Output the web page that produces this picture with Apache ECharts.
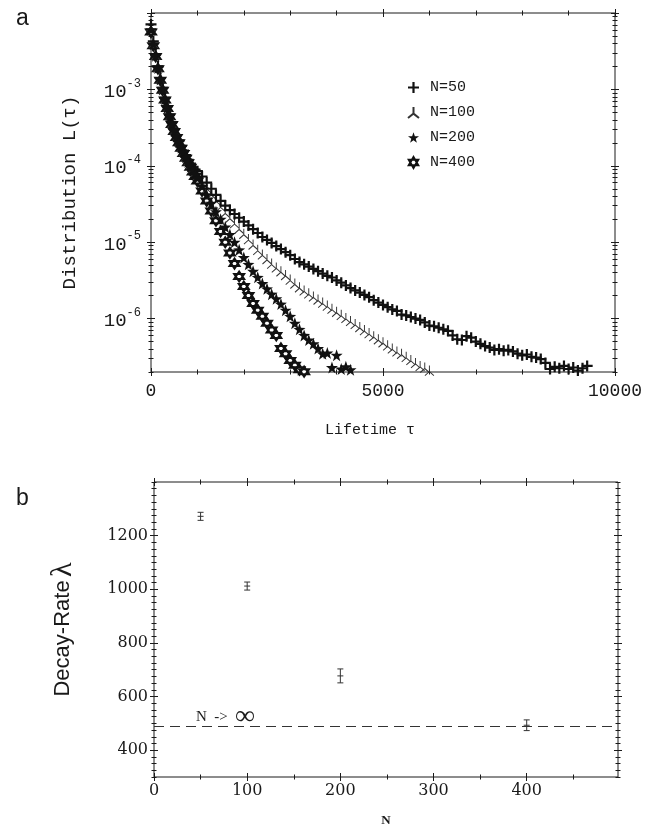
<!DOCTYPE html>
<html><head><meta charset="utf-8">
<script src="https://cdn.jsdelivr.net/npm/echarts@6/dist/echarts.min.js"></script>
<style>html,body{margin:0;padding:0;background:#fff}#chart{width:650px;height:829px}</style>
</head><body><div id="chart"></div>
<script>
// ---------- Panel a : lifetime distribution L(tau) ----------
// early bins (tau = 0 .. 950, every 50), then coarser bins (tau = 1000 .. , every 100)
const TAU_EARLY_STEP = 50;
const TAU_SPLIT = 1000;
const TAU_STEP = 100;
const L_N50_EARLY = [7.08e-3, 4.27e-3, 2.88e-3, 2.0e-3, 1.41e-3, 1.05e-3, 7.76e-4, 6.03e-4, 4.68e-4, 3.72e-4,
 3.02e-4, 2.51e-4, 2.14e-4, 1.82e-4, 1.58e-4, 1.38e-4, 1.20e-4, 1.07e-4, 9.55e-5, 8.91e-5];
const L_N50 = [8.51e-5, 7.24e-5, 6.03e-5, 5.01e-5, 4.17e-5, 3.47e-5, 3.02e-5, 2.63e-5, 2.34e-5, 2.09e-5,
 1.86e-5, 1.66e-5, 1.48e-5, 1.32e-5, 1.17e-5, 1.07e-5, 9.77e-6, 8.91e-6, 8.13e-6, 7.41e-6,
 6.76e-6, 6.03e-6, 5.50e-6, 5.13e-6, 4.79e-6, 4.47e-6, 4.17e-6, 3.89e-6, 3.63e-6, 3.45e-6,
 3.16e-6, 2.95e-6, 2.72e-6, 2.51e-6, 2.34e-6, 2.19e-6, 2.04e-6, 1.91e-6, 1.74e-6, 1.62e-6,
 1.51e-6, 1.41e-6, 1.32e-6, 1.26e-6, 1.13e-6, 1.10e-6, 1.05e-6, 1.0e-6, 9.6e-7, 8.91e-7,
 8.1e-7, 7.94e-7, 7.59e-7, 7.24e-7, 6.92e-7, 6.03e-7, 5.37e-7, 5.25e-7, 5.89e-7, 5.62e-7,
 5.01e-7, 4.68e-7, 4.37e-7, 4.17e-7, 3.89e-7, 3.98e-7, 3.80e-7, 3.89e-7, 3.72e-7, 3.47e-7,
 3.31e-7, 3.39e-7, 3.16e-7, 3.09e-7, 2.95e-7, 2.63e-7, 2.19e-7, 2.34e-7, 2.24e-7, 2.40e-7,
 2.19e-7, 2.29e-7, 2.09e-7, 2.24e-7, 2.40e-7];
const L_N100_EARLY = [6.76e-3, 4.07e-3, 2.82e-3, 1.95e-3, 1.38e-3, 1.02e-3, 7.59e-4, 5.89e-4, 4.57e-4, 3.63e-4,
 2.95e-4, 2.45e-4, 2.09e-4, 1.78e-4, 1.55e-4, 1.35e-4, 1.17e-4, 1.05e-4, 9.33e-5, 8.32e-5];
const L_N100 = [7.59e-5, 6.17e-5, 5.13e-5, 4.27e-5, 3.55e-5, 2.95e-5, 2.45e-5, 2.09e-5, 1.78e-5, 1.51e-5,
 1.29e-5, 1.10e-5, 9.33e-6, 7.94e-6, 6.92e-6, 6.03e-6, 5.25e-6, 4.68e-6, 4.17e-6, 3.72e-6,
 3.24e-6, 2.88e-6, 2.57e-6, 2.34e-6, 2.14e-6, 1.95e-6, 1.78e-6, 1.62e-6, 1.48e-6, 1.35e-6,
 1.23e-6, 1.12e-6, 1.02e-6, 9.33e-7, 8.51e-7, 7.76e-7, 7.08e-7, 6.46e-7, 5.89e-7, 5.37e-7,
 4.90e-7, 4.47e-7, 4.07e-7, 3.72e-7, 3.47e-7, 3.16e-7, 2.88e-7, 2.63e-7, 2.40e-7, 2.29e-7,
 2.09e-7];
const L_N200_EARLY = [6.03e-3, 3.89e-3, 2.75e-3, 1.91e-3, 1.35e-3, 1.0e-3, 7.41e-4, 5.75e-4, 4.47e-4, 3.55e-4,
 2.88e-4, 2.40e-4, 2.04e-4, 1.74e-4, 1.51e-4, 1.29e-4, 1.12e-4, 9.77e-5, 8.71e-5, 7.76e-5];
const L_N200 = [6.92e-5, 5.37e-5, 4.17e-5, 3.24e-5, 2.51e-5, 2.0e-5, 1.58e-5, 1.26e-5, 1.0e-5, 7.94e-6,
 6.31e-6, 5.13e-6, 4.17e-6, 3.47e-6, 2.88e-6, 2.45e-6, 2.09e-6, 1.82e-6, 1.55e-6, 1.29e-6,
 1.07e-6, 8.71e-7, 7.24e-7, 6.03e-7, 5.25e-7, 4.68e-7, 4.07e-7, 3.47e-7, 3.55e-7, 2.29e-7,
 3.31e-7, 2.19e-7, 2.34e-7, 2.14e-7];
const L_N400_EARLY = [5.62e-3, 3.72e-3, 2.69e-3, 1.86e-3, 1.32e-3, 9.77e-4, 7.24e-4, 5.62e-4, 4.37e-4, 3.47e-4,
 2.82e-4, 2.34e-4, 2.0e-4, 1.70e-4, 1.45e-4, 1.26e-4, 1.10e-4, 9.55e-5, 8.32e-5, 7.24e-5];
const L_N400 = [6.31e-5, 4.68e-5, 3.47e-5, 2.57e-5, 1.91e-5, 1.38e-5, 1.0e-5, 7.24e-6, 5.25e-6, 3.55e-6,
 2.63e-6, 2.0e-6, 1.58e-6, 1.29e-6, 1.07e-6, 8.71e-7, 7.08e-7, 6.03e-7, 4.07e-7, 3.47e-7,
 2.82e-7, 2.45e-7, 2.14e-7, 2.02e-7];
const SERIES_NAMES = ['N=50', 'N=100', 'N=200', 'N=400'];

// axis ranges / ticks panel a
const TAU_MIN = 0, TAU_MAX = 10000;
const L_MIN = 2e-7, L_MAX = 1e-2;
const TAU_TICK_LABELS = [0, 5000, 10000];
const TAU_MINOR = [1000, 2000, 3000, 4000, 6000, 7000, 8000, 9000];
const L_TICK_LABELS = [1e-6, 1e-5, 1e-4, 1e-3];
const L_MAJOR = [1e-6, 1e-5, 1e-4, 1e-3, 1e-2];
const L_DECADES = [1e-7, 1e-6, 1e-5, 1e-4, 1e-3];
const L_MANTISSAS = [2, 3, 4, 5, 6, 7, 8, 9];

// ---------- Panel b : decay rate vs N ----------
const N_VALUES = [50, 100, 200, 400];
const LAMBDA = [1272, 1012, 677, 493];
const LAMBDA_ERR = [15, 15, 26, 20];
const LAMBDA_LIMIT = 490;
const N_MIN = 0, N_MAX = 498;
const LAM_MIN = 300, LAM_MAX = 1400;
const N_TICK_LABELS = [0, 100, 200, 300, 400];
const N_MINOR = [50, 150, 250, 350, 450];
const LAM_TICK_LABELS = [400, 600, 800, 1000, 1200];

// ---------- build ----------
const INK = '#1a1a1a';
const L_MINOR = [];
L_DECADES.forEach(d => L_MANTISSAS.forEach(m => L_MINOR.push(+(m * d).toPrecision(3))));
const LAM_MINOR = [];
for (let v = LAM_MIN; v <= LAM_MAX; v += 25) if (LAM_TICK_LABELS.indexOf(v) < 0) LAM_MINOR.push(v);

const toPts = (early, main) =>
  early.map((v, i) => [i * TAU_EARLY_STEP, v]).concat(main.map((v, i) => [TAU_SPLIT + i * TAU_STEP, v]));
const plain = v => String(Math.round(v));

function tickAxis(base, gridIndex, position, values, len, inside) {
  return Object.assign({}, base, {
    gridIndex, position, name: '', silent: true,
    axisLine: { show: false, onZero: false },
    axisLabel: { show: false },
    splitLine: { show: false },
    axisTick: { show: true, customValues: values, inside, length: len, lineStyle: { color: INK, width: 1 } }
  });
}
function crossTicks(base, gridIndex, positions, major, minor, majLen, minLen) {
  const out = [];
  positions.forEach(p => {
    [[major, majLen], [minor, minLen]].forEach(([vals, len]) => {
      [true, false].forEach(ins => out.push(tickAxis(base, gridIndex, p, vals, len, ins)));
    });
  });
  return out;
}

const xBaseA = { type: 'value', min: TAU_MIN, max: TAU_MAX };
const yBaseA = { type: 'log', logBase: 10, min: L_MIN, max: L_MAX };
const xBaseB = { type: 'value', min: N_MIN, max: N_MAX };
const yBaseB = { type: 'value', min: LAM_MIN, max: LAM_MAX };

const MONO = 'Liberation Mono';
const SERIF = 'DejaVu Serif';

const xAxes = [
  Object.assign({}, xBaseA, {
    gridIndex: 0, position: 'bottom',
    axisLine: { show: false, onZero: false }, axisTick: { show: false }, splitLine: { show: false },
    axisLabel: { customValues: TAU_TICK_LABELS, formatter: plain, margin: 10, fontFamily: MONO, fontSize: 18, color: INK },
    name: 'Lifetime τ', nameLocation: 'middle', nameGap: 51,
    nameTextStyle: { fontFamily: MONO, fontSize: 15, color: INK, padding: [0, 26, 0, 0] }
  }),
  Object.assign({}, xBaseB, {
    gridIndex: 1, position: 'bottom',
    axisLine: { show: false, onZero: false }, axisTick: { show: false }, splitLine: { show: false },
    axisLabel: { customValues: N_TICK_LABELS, formatter: plain, margin: 6, fontFamily: SERIF, fontSize: 16, color: INK },
    name: 'N', nameLocation: 'middle', nameGap: 37,
    nameTextStyle: { fontFamily: 'Liberation Serif', fontSize: 13, fontWeight: 'bold', color: INK }
  }),
  ...crossTicks(xBaseA, 0, ['bottom', 'top'], TAU_TICK_LABELS, TAU_MINOR, 4, 2.5),
  ...crossTicks(xBaseB, 1, ['bottom', 'top'], N_TICK_LABELS, N_MINOR, 4, 2.5)
];

const yAxes = [
  Object.assign({}, yBaseA, {
    gridIndex: 0, position: 'left',
    axisLine: { show: false, onZero: false }, axisTick: { show: false }, splitLine: { show: false },
    axisLabel: {
      customValues: L_TICK_LABELS, margin: 10,
      formatter: v => '{b|10}{s|' + Math.round(Math.log10(v)) + '}',
      rich: {
        b: { fontFamily: MONO, fontSize: 19, color: INK, lineHeight: 24, verticalAlign: 'bottom' },
        s: { fontFamily: MONO, fontSize: 12, color: INK, lineHeight: 12, verticalAlign: 'top' }
      }
    },
    name: 'Distribution L(τ)', nameLocation: 'middle', nameGap: 72, nameRotate: 90,
    nameTextStyle: { fontFamily: MONO, fontSize: 19, color: INK }
  }),
  Object.assign({}, yBaseB, {
    gridIndex: 1, position: 'left',
    axisLine: { show: false, onZero: false }, axisTick: { show: false }, splitLine: { show: false },
    axisLabel: { customValues: LAM_TICK_LABELS, formatter: plain, margin: 6, fontFamily: SERIF, fontSize: 16, color: INK },
    name: '{t|Decay-Rate} {l|λ}', nameLocation: 'middle', nameGap: 76, nameRotate: 90,
    nameTextStyle: {
      color: INK,
      rich: {
        t: { fontFamily: 'Liberation Sans', fontSize: 22, color: INK },
        l: { fontFamily: 'Liberation Serif', fontSize: 30, color: INK }
      }
    }
  }),
  ...crossTicks(yBaseA, 0, ['left', 'right'], L_MAJOR, L_MINOR, 4, 2.5),
  ...crossTicks(yBaseB, 1, ['left', 'right'], LAM_TICK_LABELS, LAM_MINOR, 4, 2.5)
];

const SYM = {
  plus: 'path://M4,0 H6 V4 H10 V6 H6 V10 H4 V6 H0 V4 H4 Z',
  tripod: 'path://M5,0 L5,6 L0,10 M5,6 L10,10',
  star: 'path://M5,0 L6.18,3.38 L9.76,3.45 L6.9,5.62 L7.94,9.05 L5,7 L2.06,9.05 L3.1,5.62 L0.24,3.45 L3.82,3.38 Z',
  hexa: 'path://M5,0 L9.33,7.5 L0.67,7.5 Z M5,10 L0.67,2.5 L9.33,2.5 Z'
};

const errData = N_VALUES.map((n, i) => [n, LAMBDA[i], LAMBDA_ERR[i]]);

const option = {
  backgroundColor: '#fff',
  animation: false,
  title: [
    { text: 'a', left: 11, top: 2, textStyle: { fontFamily: 'Liberation Sans', fontSize: 23, fontWeight: 'normal', color: INK } },
    { text: 'b', left: 11, top: 482, textStyle: { fontFamily: 'Liberation Sans', fontSize: 23, fontWeight: 'normal', color: INK } }
  ],
  grid: [
    { left: 151, top: 13, width: 464, height: 359, show: true, borderColor: INK, borderWidth: 1, backgroundColor: 'transparent', containLabel: false, outerBoundsMode: 'none' },
    { left: 154, top: 482, width: 464, height: 295, show: true, borderColor: INK, borderWidth: 1, backgroundColor: 'transparent', containLabel: false, outerBoundsMode: 'none' }
  ],
  legend: {
    data: SERIES_NAMES, orient: 'vertical', left: 402, top: 75,
    itemWidth: 11, itemHeight: 11, itemGap: 10, selectedMode: false,
    textStyle: { fontFamily: MONO, fontSize: 15, color: INK, padding: [0, 0, 0, 6] }
  },
  xAxis: xAxes,
  yAxis: yAxes,
  series: [
    { name: 'N=400', type: 'scatter', xAxisIndex: 0, yAxisIndex: 0, data: toPts(L_N400_EARLY, L_N400),
      symbol: SYM.hexa, symbolSize: 10, itemStyle: { color: '#fff', borderColor: '#111', borderWidth: 2, opacity: 1 } },
    { name: 'N=100', type: 'scatter', xAxisIndex: 0, yAxisIndex: 0, data: toPts(L_N100_EARLY, L_N100),
      symbol: SYM.tripod, symbolSize: [9, 10], itemStyle: { color: 'rgba(0,0,0,0)', borderColor: '#333', borderWidth: 1, opacity: 1 } },
    { name: 'N=50', type: 'scatter', xAxisIndex: 0, yAxisIndex: 0, data: toPts(L_N50_EARLY, L_N50),
      symbol: SYM.plus, symbolSize: 11, itemStyle: { color: '#111', opacity: 1 } },
    { name: 'N=200', type: 'scatter', xAxisIndex: 0, yAxisIndex: 0, data: toPts(L_N200_EARLY, L_N200),
      symbol: SYM.star, symbolSize: 12, itemStyle: { color: '#111', opacity: 1 } },
    {
      name: 'lambda', type: 'custom', xAxisIndex: 1, yAxisIndex: 1, data: errData,
      encode: { x: 0, y: 1 },
      renderItem: function (params, api) {
        const x = api.value(0), v = api.value(1), e = api.value(2);
        const t = api.coord([x, v + e]), b = api.coord([x, v - e]), m = api.coord([x, v]);
        const w = 3, st = { stroke: '#333', lineWidth: 1 };
        return { type: 'group', children: [
          { type: 'line', shape: { x1: t[0], y1: t[1], x2: b[0], y2: b[1] }, style: st },
          { type: 'line', shape: { x1: t[0] - w, y1: t[1], x2: t[0] + w, y2: t[1] }, style: st },
          { type: 'line', shape: { x1: b[0] - w, y1: b[1], x2: b[0] + w, y2: b[1] }, style: st },
          { type: 'line', shape: { x1: m[0] - w, y1: m[1], x2: m[0] + w, y2: m[1] }, style: st }
        ] };
      }
    },
    {
      name: 'limit', type: 'scatter', xAxisIndex: 1, yAxisIndex: 1, data: [],
      markLine: {
        silent: true, symbol: 'none', animation: false,
        data: [{ yAxis: LAMBDA_LIMIT }],
        lineStyle: { type: [10, 6], color: '#333', width: 1 },
        label: {
          show: true, position: 'insideStartTop', distance: 0,
          formatter: '{t|N  ->  }{i|∞}',
          padding: [0, 0, 0, 42],
          rich: {
            t: { fontFamily: 'Liberation Serif', fontSize: 15, color: INK, lineHeight: 16 },
            i: { fontFamily: 'Liberation Serif', fontSize: 27, fontWeight: 'bold', color: INK, lineHeight: 18 }
          }
        }
      }
    }
  ]
};

const chart = echarts.init(document.getElementById('chart'), null, { renderer: 'canvas' });
chart.setOption(option);
</script></body></html>
